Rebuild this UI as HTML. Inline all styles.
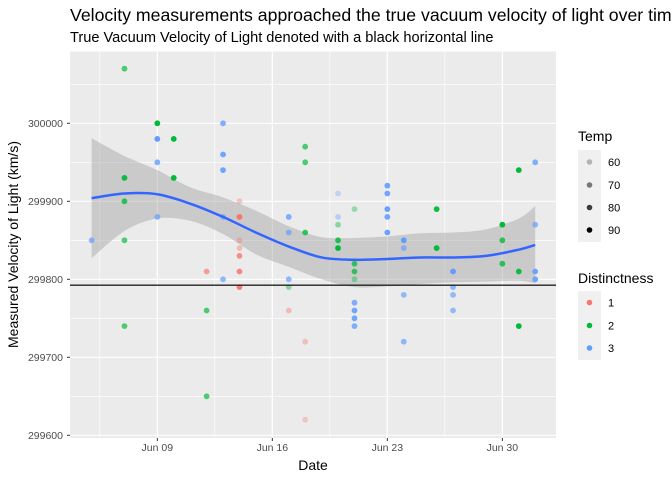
<!DOCTYPE html>
<html><head><meta charset="utf-8"><style>
body{margin:0;background:#fff;font-family:"Liberation Sans",Arial,sans-serif}
svg{display:block}
</style></head><body>
<svg id="chart" width="672" height="480" xmlns="http://www.w3.org/2000/svg">
<text x="70" y="21" font-size="17.7" fill="#000">Velocity measurements approached the true vacuum velocity of light over time</text>
<text x="70" y="42" font-size="14.6" fill="#000">True Vacuum Velocity of Light denoted with a black horizontal line</text>
<rect x="70" y="51.5" width="486" height="386.5" fill="#ebebeb"/>
<g id="grid"></g><g id="band"></g><g id="pts"></g><g id="axes"></g>
<text transform="translate(18,244.5) rotate(-90)" text-anchor="middle" font-size="14">Measured Velocity of Light (km/s)</text>
<text x="313" y="470" text-anchor="middle" font-size="14">Date</text>
<g>
<text x="578" y="141" font-size="14">Temp</text>
<rect x="578" y="150" width="23" height="92" fill="#f0f0f0"/>
<circle cx="589.5" cy="162" r="2.8" fill="#000" fill-opacity="0.25"/><text x="608" y="166" font-size="11">60</text>
<circle cx="589.5" cy="185" r="2.8" fill="#000" fill-opacity="0.5"/><text x="608" y="189" font-size="11">70</text>
<circle cx="589.5" cy="207.5" r="2.8" fill="#000" fill-opacity="0.75"/><text x="608" y="211.5" font-size="11">80</text>
<circle cx="589.5" cy="230" r="2.8" fill="#000"/><text x="608" y="234" font-size="11">90</text>
</g>
<g>
<text x="578" y="283" font-size="14">Distinctness</text>
<rect x="578" y="291" width="23" height="69" fill="#f0f0f0"/>
<circle cx="589.5" cy="302.5" r="2.8" fill="#F8766D"/><text x="608" y="306.5" font-size="11">1</text>
<circle cx="589.5" cy="325.5" r="2.8" fill="#00BA38"/><text x="608" y="329.5" font-size="11">2</text>
<circle cx="589.5" cy="348" r="2.8" fill="#619CFF"/><text x="608" y="352" font-size="11">3</text>
</g>
</svg>
<script>
// day index: 0 = Jun 5
const pointDays = [0,2,2,2,2,2,4,4,4,4,5,5,7,7,7,8,8,8,8,8,9,9,9,9,9,9,9,12,12,12,12,12,13,13,13,13,13,15,15,15,15,15,16,16,16,16,16,16,16,16,18,18,18,18,18,19,19,19,19,21,21,22,22,22,22,25,25,25,26,26,26,27,27,27,27];
const pointValues = [299850,300070,299930,299900,299850,299740,300000,299980,299950,299880,299980,299930,299810,299760,299650,300000,299960,299940,299880,299800,299900,299880,299850,299840,299830,299810,299790,299880,299860,299800,299790,299760,299970,299950,299860,299720,299620,299910,299880,299870,299850,299840,299890,299820,299810,299800,299770,299760,299750,299740,299920,299910,299890,299880,299860,299850,299840,299780,299720,299890,299840,299810,299790,299780,299760,299870,299850,299820,299940,299810,299740,299950,299870,299810,299800];
const pointDistinct = [3,2,2,2,2,2,2,3,3,3,2,2,1,2,2,3,3,3,3,3,1,1,1,1,1,1,1,3,3,3,2,1,2,2,2,1,1,3,3,2,2,2,2,2,2,2,3,3,3,3,3,3,3,3,3,3,3,3,3,2,2,3,3,3,3,2,2,2,2,2,2,3,3,3,3];
const pointTemp = [72,72,82,76,72,72,86,84,76,72,86,84,72,72,72,76,80,80,72,72,60,84,60,62,76,78,82,76,72,72,62,62,72,72,76,60,58,58,60,62,78,84,60,74,74,62,76,80,80,76,80,80,82,80,82,84,70,70,72,82,84,84,72,70,70,84,76,76,86,82,86,76,72,80,80];
const smoothDays = [0,2,4,6,8,10,12,14,16,18,20,22,24,26,27];
const smoothFit = [299904,299910,299909,299897,299880,299860,299842,299828,299825,299826,299828,299828,299830,299838,299844];
const smoothLow = [299827,299862,299878,299875,299858,299832,299816,299800,299790,299791,299794,299796,299797,299798,299795];
const smoothHigh = [299981,299958,299940,299918,299905,299888,299868,299854,299853,299855,299859,299860,299864,299878,299894];
const yTicks = [299600,299700,299800,299900,300000];
const xTickDays = [4,11,18,25];
const xTickLabels = ["Jun 09","Jun 16","Jun 23","Jun 30"];
const trueVelocity = 299792.458;

const NS="http://www.w3.org/2000/svg";
const X=d=>91.6+d*16.43;
const Y=v=>123.3+(300000-v)*0.78;
const colors={1:"#F8766D",2:"#00BA38",3:"#619CFF"};
function mk(tag,attrs,parent){const e=document.createElementNS(NS,tag);for(const k in attrs)e.setAttribute(k,attrs[k]);document.getElementById(parent).appendChild(e);return e;}
function spline(pts,start){let s=start?("M"+pts[0][0]+","+pts[0][1]):("L"+pts[0][0]+","+pts[0][1]);
for(let i=0;i<pts.length-1;i++){const p0=pts[Math.max(0,i-1)],p1=pts[i],p2=pts[i+1],p3=pts[Math.min(pts.length-1,i+2)];
s+="C"+(p1[0]+(p2[0]-p0[0])/6)+","+(p1[1]+(p2[1]-p0[1])/6)+" "+(p2[0]-(p3[0]-p1[0])/6)+","+(p2[1]-(p3[1]-p1[1])/6)+" "+p2[0]+","+p2[1];}
return s;}
// grid
for(const d of [0.5,7.5,14.5,21.5]){const l=mk("line",{x1:X(d),x2:X(d),y1:51.5,y2:438,stroke:"#fff","stroke-width":0.6},"grid");

}
for(let i=0;i<yTicks.length;i++){const v=yTicks[i]+50;if(v>300092)continue;const l=mk("line",{x1:70,x2:556,y1:Y(v),y2:Y(v),stroke:"#fff","stroke-width":0.6},"grid");

}
for(const d of xTickDays){const l=mk("line",{x1:X(d),x2:X(d),y1:51.5,y2:438,stroke:"#fff","stroke-width":1.2},"grid");

}
for(const v of yTicks){const l=mk("line",{x1:70,x2:556,y1:Y(v),y2:Y(v),stroke:"#fff","stroke-width":1.2},"grid");

}
// points
for(let i=0;i<pointDays.length;i++){
const a=Math.max(0.15,Math.min(1,(pointTemp[i]-46)/38));
const c=mk("circle",{cx:X(pointDays[i]),cy:Y(pointValues[i]),r:2.9,fill:colors[pointDistinct[i]],"fill-opacity":a},"pts");

}
// band
const hi=smoothDays.map((d,i)=>[X(d),Y(smoothHigh[i])]);
const lo=smoothDays.map((d,i)=>[X(d),Y(smoothLow[i])]).reverse();
const band=mk("path",{d:spline(hi,true)+spline(lo,false)+"Z",fill:"#999","fill-opacity":0.4},"band");


const sl=mk("path",{d:spline(smoothDays.map((d,i)=>[X(d),Y(smoothFit[i])]),true),fill:"none",stroke:"#3366FF","stroke-width":2.5,"stroke-linejoin":"round"},"pts");


// true velocity line
const tl=mk("line",{x1:70,x2:556,y1:Y(trueVelocity),y2:Y(trueVelocity),stroke:"#222","stroke-width":1.3},"pts");


// axes ticks
for(const v of yTicks){const t=mk("text",{x:63,y:Y(v)+3.5,"text-anchor":"end","font-size":"10.5",fill:"#4d4d4d"},"axes");t.textContent=v;


const k=mk("line",{x1:67,x2:70,y1:Y(v),y2:Y(v),stroke:"#333"},"axes");

}
for(let i=0;i<xTickDays.length;i++){const x=X(xTickDays[i]);const t=mk("text",{x:x,y:451,"text-anchor":"middle","font-size":"10.5",fill:"#4d4d4d"},"axes");t.textContent=xTickLabels[i];


const k=mk("line",{x1:x,x2:x,y1:438,y2:441,stroke:"#333"},"axes");

}
</script>
</body></html>
